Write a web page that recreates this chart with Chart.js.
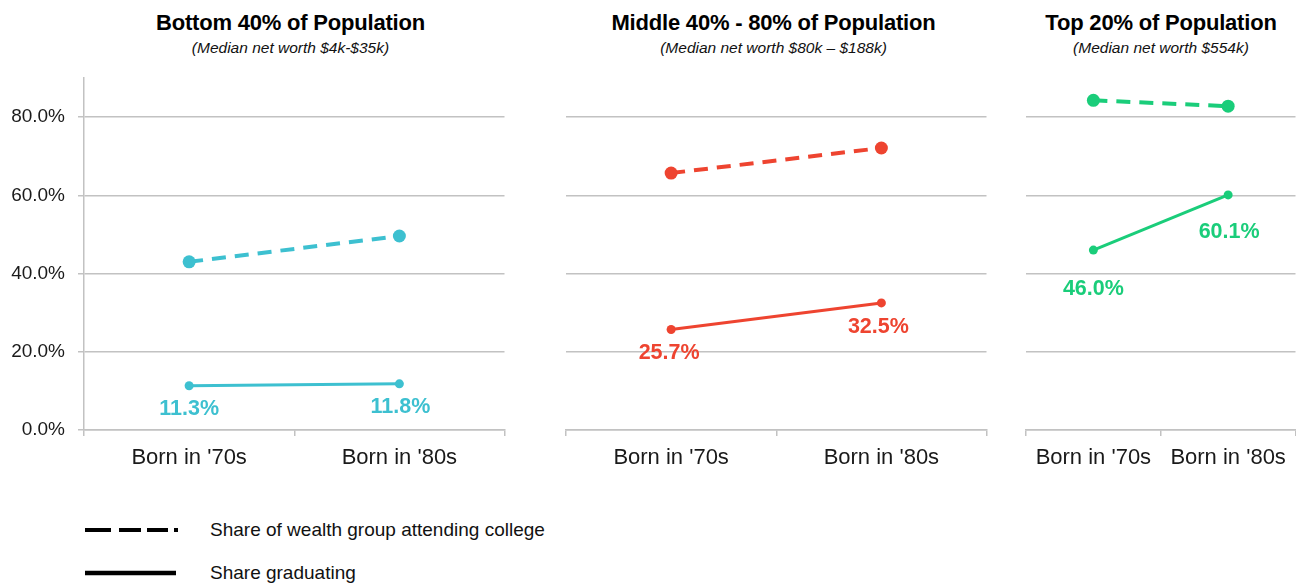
<!DOCTYPE html>
<html>
<head>
<meta charset="utf-8">
<script src="https://cdn.jsdelivr.net/npm/chart.js@4/dist/chart.umd.min.js"></script>
<style>
  body { margin: 0; background: #fff; font-family: "Liberation Sans", Arial, sans-serif; }
  #wrap { position: relative; width: 1296px; height: 585px; overflow: hidden; }
  canvas { position: absolute; top: 70px; }
  .title { position: absolute; top: 10px; text-align: center; color: #000; }
  .title b { display: block; font-size: 22px; letter-spacing: -0.2px; }
  .title i { display: block; font-size: 15.5px; margin-top: 3px; color: #111; }
  .leg { position: absolute; left: 85px; display: flex; align-items: center; font-size: 19px; color: #111; }
  .leg svg { margin-right: 32px; }
</style>
</head>
<body>
<div id="wrap">
  <div class="title" style="left:80px;width:421px"><b id="t0"></b><i id="s0"></i></div>
  <div class="title" style="left:563px;width:421px"><b id="t1"></b><i id="s1"></i></div>
  <div class="title" style="left:1026px;width:270px"><b id="t2"></b><i id="s2"></i></div>
  <canvas id="c0" width="511" height="410" style="left:0"></canvas>
  <canvas id="c1" width="437" height="410" style="left:556px"></canvas>
  <canvas id="c2" width="286" height="410" style="left:1016px"></canvas>
  <div class="leg" style="top:519px">
    <svg width="93" height="8"><line x1="0" y1="4" x2="93" y2="4" stroke="#000" stroke-width="4" stroke-dasharray="26 8 22 6 21 6 4"/></svg>
    <span>Share of wealth group attending college</span>
  </div>
  <div class="leg" style="top:562px">
    <svg width="93" height="8"><line x1="0" y1="4" x2="91" y2="4" stroke="#000" stroke-width="4.5"/></svg>
    <span>Share graduating</span>
  </div>
</div>
<script>
const categories = ["Born in '70s", "Born in '80s"];
const panelTitles = ["Bottom 40% of Population", "Middle 40% - 80% of Population", "Top 20% of Population"];
const panelSubtitles = ["(Median net worth $4k-$35k)", "(Median net worth $80k \u2013 $188k)", "(Median net worth $554k)"];
const yTickValues = [0, 20, 40, 60, 80];

const bottomAttending = [43.0, 49.6];
const bottomGraduating = [11.3, 11.8];
const middleAttending = [65.7, 72.1];
const middleGraduating = [25.7, 32.5];
const topAttending = [84.3, 82.8];
const topGraduating = [46.0, 60.1];

const teal = "#3DC0D0";
const red = "#EE4430";
const green = "#1ACD7A";
const gridColor = "#C2C2C2";
const font = "'Liberation Sans', Arial, sans-serif";

panelTitles.forEach((t, i) => {
  document.getElementById("t" + i).textContent = t;
  document.getElementById("s" + i).textContent = panelSubtitles[i];
});

// labels under the "graduating" points
const valueLabels = {
  id: "valueLabels",
  afterDatasetsDraw(chart, args, opts) {
    const meta = chart.getDatasetMeta(1);
    const ctx = chart.ctx;
    ctx.save();
    ctx.font = "bold 21.5px " + font;
    ctx.fillStyle = opts.color;
    ctx.textAlign = "center";
    ctx.textBaseline = "middle";
    meta.data.forEach((pt, i) => {
      const v = chart.data.datasets[1].data[i];
      const off = opts.offsets[i];
      ctx.fillText(v.toFixed(1) + "%", pt.x + off[0], pt.y + off[1]);
    });
    ctx.restore();
  },
};

function makePanel(id, attending, graduating, color, showY, padLeft, offsets) {
  return new Chart(document.getElementById(id), {
    type: "line",
    data: {
      labels: categories,
      datasets: [
        {
          data: attending,
          borderColor: color,
          backgroundColor: color,
          borderWidth: 4,
          borderDash: [14, 9],
          pointRadius: 6.5,
          pointBorderWidth: 0,
        },
        {
          data: graduating,
          borderColor: color,
          backgroundColor: color,
          borderWidth: 3,
          pointRadius: 4.5,
          pointBorderWidth: 0,
        },
      ],
    },
    options: {
      responsive: false,
      animation: false,
      events: [],
      layout: { padding: { top: 8, left: padLeft, right: 0, bottom: 0 } },
      plugins: {
        legend: { display: false },
        tooltip: { enabled: false },
        valueLabels: { color: color, offsets: offsets },
      },
      scales: {
        x: {
          offset: true,
          grid: { offset: true, drawOnChartArea: false, drawTicks: true, tickLength: 6, color: gridColor, lineWidth: 1.5 },
          border: { display: true, color: gridColor, width: 1.5 },
          ticks: { color: "#1a1a1a", font: { family: font, size: 22 }, padding: 9, maxRotation: 0 },
          afterFit: (s) => { s.height = 50; s.paddingLeft = 0; s.paddingRight = 0; },
        },
        y: {
          min: 0,
          max: 90,
          afterBuildTicks: (s) => { s.ticks = yTickValues.map((v) => ({ value: v })); },
          grid: { color: gridColor, lineWidth: 1.5, drawTicks: showY, tickLength: 6 },
          border: { display: showY, color: gridColor, width: 1.5 },
          ticks: {
            display: showY,
            color: "#1a1a1a",
            padding: 13,
            font: { family: font, size: 19 },
            callback: (v) => v.toFixed(1) + "%",
          },
          afterFit: (s) => { s.width = showY ? 84 : 0; s.paddingTop = 0; s.paddingBottom = 0; },
        },
      },
    },
    plugins: [valueLabels],
  });
}

makePanel("c0", bottomAttending, bottomGraduating, teal, true, 0, [[0, 23], [1, 23]]);
makePanel("c1", middleAttending, middleGraduating, red, false, 10, [[-2, 24], [-3, 24]]);
makePanel("c2", topAttending, topGraduating, green, false, 10, [[0, 39], [1, 37]]);
</script>
</body>
</html>
